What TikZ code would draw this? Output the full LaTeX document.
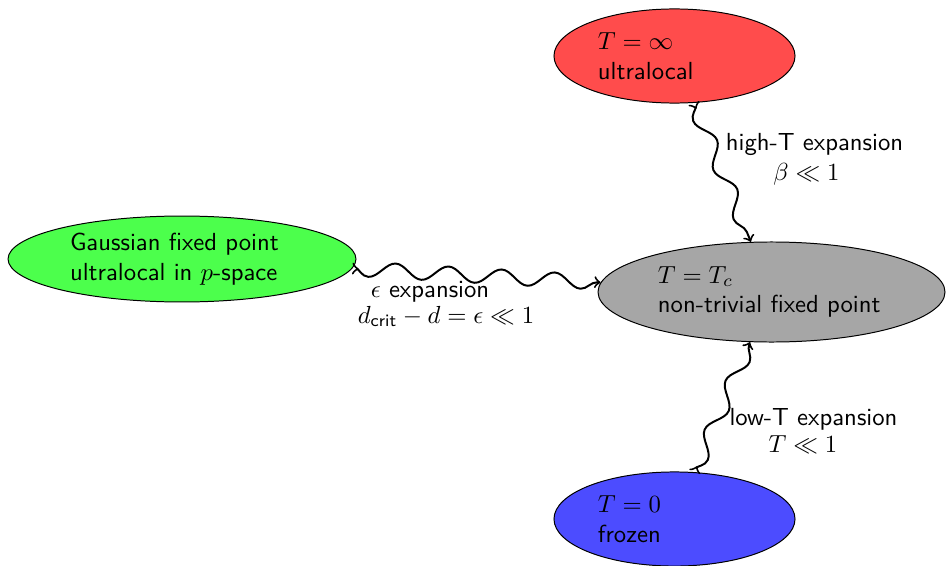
\documentclass[tikz,border=0pt]{standalone}
\usepackage{amsmath}
\usetikzlibrary{shapes.geometric,decorations.pathmorphing}
\begin{document}
\begin{tikzpicture}[x=0.4049pt,y=-0.4049pt,font=\sffamily,
  phase/.style={ellipse,draw,thin,inner sep=1pt,align=left},
  flow/.style={thick,>->,decorate,
    decoration={snake,mirror,segment length=21.5pt,amplitude=3pt}},
  lbl/.style={anchor=base,inner sep=0pt}]
\useasboundingbox (0,0) rectangle (946,566);

% fixed points
\node[phase,fill=red!70,text width=62pt,minimum width=97.6pt,minimum height=38.1pt]
  (hot) at (674.5,56) {$T=\infty$\\ultralocal};
\node[phase,fill=gray!70,text width=92pt,minimum width=140.5pt,minimum height=40.5pt]
  (crit) at (771.5,292) {$T=T_c$\\non-trivial fixed point};
\node[phase,fill=green!70,text width=90.7pt,minimum width=140.9pt,minimum height=34.8pt]
  (gauss) at (182,259) {Gaussian fixed point\\ultralocal in $p$-space};
\node[phase,fill=blue!70,text width=62pt,minimum width=97.6pt,minimum height=38.1pt]
  (cold) at (674.5,519) {$T=0$\\frozen};

% expansions flowing into the critical point
\draw[flow] (hot) -- (crit);
\draw[flow] (gauss) -- (crit);
\draw[flow] (cold) -- (crit);

% expansion labels
\node[lbl] (hiA) at (814.5,150) {high-T expansion};
\node[lbl] (hiB) at (806.5,180) {$\beta\ll 1$};
\node[lbl] (epA) at (430,297) {$\epsilon$ expansion};
\node[lbl] (epB) at (446,323) {$d_{\text{crit}}-d=\epsilon\ll 1$};
\node[lbl] (loA) at (813.5,425) {low-T expansion};
\node[lbl] (loB) at (803,452) {$T\ll 1$};
\end{tikzpicture}
\end{document}
